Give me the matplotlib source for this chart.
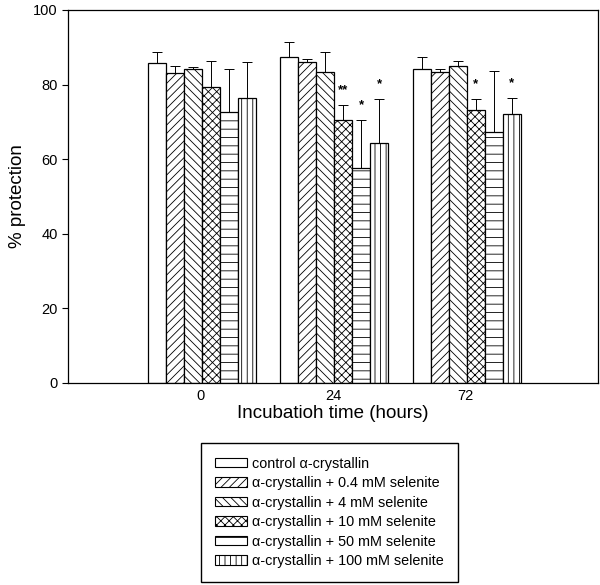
import matplotlib
matplotlib.use("Agg")
import matplotlib.pyplot as plt
import numpy as np
from matplotlib.patches import Patch

plt.rcParams["font.family"] = ["Liberation Sans", "DejaVu Sans"]
plt.rcParams["hatch.linewidth"] = 0.6

# Data
times = ["0", "24", "72"]
series = [
    "control \u03b1-crystallin",
    "\u03b1-crystallin + 0.4 mM selenite",
    "\u03b1-crystallin + 4 mM selenite",
    "\u03b1-crystallin + 10 mM selenite",
    "\u03b1-crystallin + 50 mM selenite",
    "\u03b1-crystallin + 100 mM selenite",
]
# mean % protection per series, per time point (0, 24, 72 h)
control = [85.9, 87.3, 84.3]
sel_04 = [83.0, 86.0, 83.3]
sel_4 = [84.1, 83.4, 85.0]
sel_10 = [79.4, 70.4, 73.1]
sel_50 = [72.7, 57.5, 67.2]
sel_100 = [76.4, 64.4, 72.0]
# upper error (SD)
err_control = [2.8, 4.2, 3.1]
err_04 = [1.9, 0.9, 1.0]
err_4 = [0.7, 5.2, 1.4]
err_10 = [6.9, 4.0, 3.1]
err_50 = [11.5, 12.9, 16.3]
err_100 = [9.6, 11.7, 4.5]
# significance marks
sig_control = ["", "", ""]
sig_04 = ["", "", ""]
sig_4 = ["", "", ""]
sig_10 = ["", "**", "*"]
sig_50 = ["", "*", ""]
sig_100 = ["", "*", "*"]

values = [control, sel_04, sel_4, sel_10, sel_50, sel_100]
errors = [err_control, err_04, err_4, err_10, err_50, err_100]
sigs = [sig_control, sig_04, sig_4, sig_10, sig_50, sig_100]
hatches = ["", "////", "\\\\\\\\", "xxxx", "--", "|||"]

fig = plt.figure(figsize=(6.0, 5.85), dpi=100)
ax = fig.add_axes([0.1133, 0.3453, 0.8834, 0.6377])

x = np.arange(1, len(times) + 1)
width = 0.136

for i, (vals, errs, sg, h) in enumerate(zip(values, errors, sigs, hatches)):
    pos = x + (i - 2.5) * width + 0.01
    ax.bar(pos, vals, width=width, color="white", edgecolor="black",
           linewidth=0.9, hatch=h, zorder=2)
    ax.errorbar(pos, vals, yerr=[np.zeros(len(errs)), errs], fmt="none",
                ecolor="black", elinewidth=0.7, capsize=3.6, capthick=0.7,
                zorder=3)
    # stars above the error bars
    for p, v, e, s in zip(pos, vals, errs, sg):
        if s:
            ax.text(p, v + e + 4, s, ha="center", va="center",
                    fontsize=9.5, fontweight="bold")

ax.set_xlim(0, 4)
ax.set_ylim(0, 100)
ax.set_xticks(x)
ax.set_xticklabels(times, fontsize=10.5)
ax.set_yticks(np.arange(0, 101, 20))
ax.tick_params(axis="y", labelsize=10.5, length=4, width=0.8, direction="out")
ax.tick_params(axis="x", length=0, pad=4)
for sp in ax.spines.values():
    sp.set_linewidth(0.9)

ax.set_ylabel("% protection", fontsize=13.5, labelpad=5)
ax.set_xlabel("Incubatioh time (hours)", fontsize=13.5, labelpad=2)

handles = [Patch(facecolor="white", edgecolor="black", linewidth=0.8, hatch=h)
           for h in hatches]
fig.legend(handles, series, loc="upper left", bbox_to_anchor=(0.335, 0.243),
           fontsize=10.4, frameon=True, fancybox=False, edgecolor="black",
           framealpha=1, handlelength=2.2, handleheight=0.6,
           handletextpad=0.4, labelspacing=0.38, borderpad=0.95,
           borderaxespad=0)

fig.savefig("out.png", dpi=100)
